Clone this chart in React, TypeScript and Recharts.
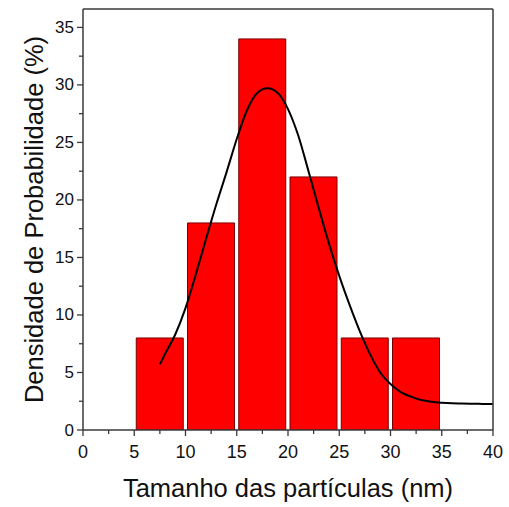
import { ComposedChart, Bar, Line, XAxis, YAxis, Label } from 'recharts';

// histogram classes of 5 nm over the 0–40 nm range and their probability density (%)
const binLabels = ['0-5', '5-10', '10-15', '15-20', '20-25', '25-30', '30-35', '35-40'];
const binDensity = [null, 8, 18, 34, 22, 8, 8, null];

// fitted distribution curve
const fitX = [7.5, 8, 9, 10, 11, 12, 13, 14, 15, 16, 17, 18, 19, 20, 21, 22, 23, 24, 25, 26, 27, 28, 29, 30, 31, 32, 33, 34, 35, 36, 37, 38, 39, 40];
const fitY = [5.7, 6.6, 8.3, 10.6, 13.5, 16.6, 19.6, 22.4, 25.3, 27.8, 29.3, 29.7, 29.3, 27.9, 25.6, 22.5, 19.3, 16.2, 13.4, 10.9, 8.6, 6.6, 5.0, 4.0, 3.3, 2.9, 2.6, 2.45, 2.37, 2.32, 2.3, 2.28, 2.27, 2.26];

const xTicks = [0, 2.5, 5, 7.5, 10, 12.5, 15, 17.5, 20, 22.5, 25, 27.5, 30, 32.5, 35, 37.5, 40];
const yTicks = [0, 2.5, 5, 7.5, 10, 12.5, 15, 17.5, 20, 22.5, 25, 27.5, 30, 32.5, 35];

const bins = binLabels.map((bin, i) => ({ bin, p: binDensity[i] }));
const fit = fitX.map((x, i) => ({ x, y: fitY[i] }));

const FONT = '"Liberation Sans", Arial, sans-serif';
const AXIS = '#3a3a3a';

const XTick = (props: any) => {
  const { x, y, payload } = props;
  const major = payload.value % 5 === 0;
  return (
    <g>
      <line x1={x} x2={x} y1={y} y2={y + (major ? 6 : 4)} stroke={AXIS} strokeWidth={1.3} />
      {major && (
        <text x={x} y={y + 22} textAnchor="middle" dominantBaseline="central" fontSize={18} fill="#111" fontFamily={FONT}>
          {payload.value}
        </text>
      )}
    </g>
  );
};

const YTick = (props: any) => {
  const { x, y, payload } = props;
  const major = payload.value % 5 === 0;
  return (
    <g>
      <line x1={x} x2={x - (major ? 6 : 4)} y1={y} y2={y} stroke={AXIS} strokeWidth={1.3} />
      {major && (
        <text x={x - 9} y={y} textAnchor="end" dominantBaseline="central" fontSize={17} fill="#111" fontFamily={FONT}>
          {payload.value}
        </text>
      )}
    </g>
  );
};

export default function App() {
  return (
    <div style={{ position: 'absolute', left: 0, top: 0, background: '#fff' }}>
      <ComposedChart
        width={509}
        height={507}
        data={bins}
        margin={{ top: 8, right: 15, left: 0, bottom: 0 }}
        barCategoryGap={2}
      >
        {/* numeric size axis, used by the fitted curve */}
        <XAxis
          dataKey="x"
          type="number"
          domain={[0, 40]}
          ticks={xTicks}
          interval={0}
          tick={<XTick />}
          tickLine={false}
          tickSize={0}
          tickMargin={0}
          height={77}
          axisLine={{ stroke: AXIS, strokeWidth: 1.5 }}
        >
          <Label
            content={({ viewBox }: any) => (
              <text
                x={viewBox.x + viewBox.width / 2}
                y={viewBox.y + 58}
                textAnchor="middle"
                dominantBaseline="central"
                fontSize={25.5}
                fill="#111"
                fontFamily={FONT}
              >
                Tamanho das partículas (nm)
              </text>
            )}
          />
        </XAxis>
        {/* hidden class axis: 8 bands of 5 nm spanning the same 0–40 range */}
        <XAxis xAxisId="bins" dataKey="bin" type="category" hide padding={{ left: 0, right: 0 }} />
        <XAxis
          xAxisId="top"
          orientation="top"
          type="number"
          domain={[0, 40]}
          tick={false}
          tickLine={false}
          height={1}
          axisLine={{ stroke: AXIS, strokeWidth: 1.5 }}
        />
        <YAxis
          type="number"
          domain={[0, 36.6]}
          ticks={yTicks}
          interval={0}
          tick={<YTick />}
          tickLine={false}
          tickSize={0}
          tickMargin={0}
          width={83}
          allowDataOverflow
          axisLine={{ stroke: AXIS, strokeWidth: 1.5 }}
        >
          <Label
            content={({ viewBox }: any) => {
              const cx = 34;
              const cy = viewBox.y + viewBox.height / 2;
              return (
                <text
                  x={cx}
                  y={cy}
                  transform={`rotate(-90 ${cx} ${cy})`}
                  textAnchor="middle"
                  dominantBaseline="central"
                  fontSize={25.5}
                  fill="#111"
                  fontFamily={FONT}
                >
                  Densidade de Probabilidade (%)
                </text>
              );
            }}
          />
        </YAxis>
        <YAxis
          yAxisId="right"
          orientation="right"
          type="number"
          domain={[0, 36.6]}
          tick={false}
          tickLine={false}
          width={1}
          axisLine={{ stroke: AXIS, strokeWidth: 1.5 }}
        />
        <Bar
          xAxisId="bins"
          dataKey="p"
          fill="#ff0000"
          stroke="#7a0000"
          strokeWidth={1}
          barSize={47}
          isAnimationActive={false}
        />
        <Line
          data={fit}
          dataKey="y"
          type="monotone"
          stroke="#000"
          strokeWidth={2}
          dot={false}
          activeDot={false}
          isAnimationActive={false}
        />
      </ComposedChart>
    </div>
  );
}
